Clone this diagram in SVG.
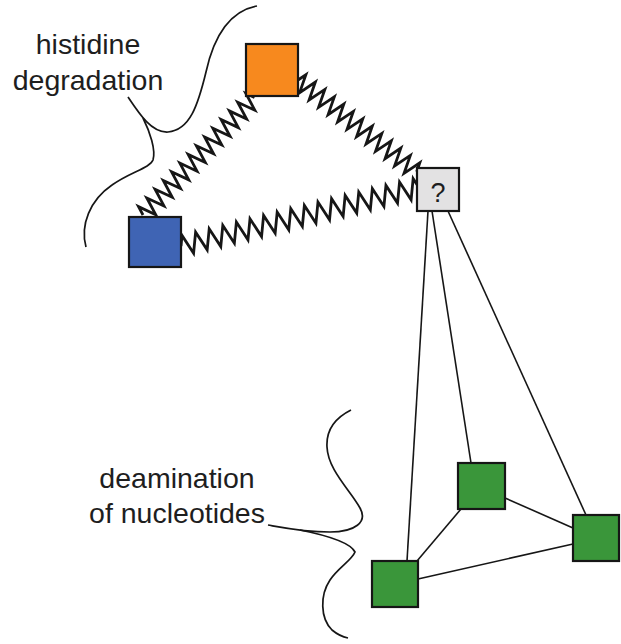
<svg xmlns="http://www.w3.org/2000/svg" width="621" height="644" viewBox="0 0 621 644">
<style>
.node{stroke:#161616;stroke-width:2.2}
.spring{fill:none;stroke:#161616;stroke-width:2.8;stroke-linejoin:miter}
.edge{fill:none;stroke:#161616;stroke-width:1.6}
.brace{fill:none;stroke:#161616;stroke-width:1.7}
.lbl{font-family:"Liberation Sans",Arial,sans-serif;font-size:28.5px;fill:#1e1e1e;text-anchor:middle}
</style>
<rect width="621" height="644" fill="#ffffff"/>
<g id="braces">
<path class="brace" d="M257,6 C225,12 212,45 206,72 C198,105 190,130 168,132 C152,133 140,115 128,97"/>
<path class="brace" d="M143,118 C150,132 156,150 153,160 C150,168 130,172 112,185 C90,200 80,225 86,247"/>
<path class="brace" d="M351,410 C335,418 326,430 327,447 C328,470 350,490 360,508 C368,522 355,532 330,532 C305,532 285,528 268,525"/>
<path class="brace" d="M300,530 C325,535 350,542 355,552 C352,560 338,568 330,580 C320,595 320,618 332,630 C338,635 343,637 348,638"/>
</g>
<g id="labels">
<text class="lbl" x="88" y="54">histidine</text>
<text class="lbl" x="88" y="90">degradation</text>
<text class="lbl" x="177" y="488">deamination</text>
<text class="lbl" x="177" y="523">of nucleotides</text>
</g>
<g id="connectors">
<g transform="translate(143,215) rotate(-46.5)">
<path class="spring" d="M0,0 l3,-9 l6,18 l6,-18 l6,18 l6,-18 l6,18 l6,-18 l6,18 l6,-18 l6,18 l6,-18 l6,18 l6,-18 l6,18 l6,-18 l6,18 l6,-18 l6,18 l6,-18 l6,18 l6,-18 l6,18 l6,-18 l6,18 l6,-18 l6,18 l6,-18 l3,9"/>
</g>
<g transform="translate(298,80) rotate(37.7)">
<path class="spring" d="M0,0 l3,-9 l6,18 l6,-18 l6,18 l6,-18 l6,18 l6,-18 l6,18 l6,-18 l6,18 l6,-18 l6,18 l6,-18 l6,18 l6,-18 l6,18 l6,-18 l6,18 l6,-18 l6,18 l6,-18 l6,18 l6,-18 l6,18 l6,-18 l3,9"/>
</g>
<g transform="translate(181,246) rotate(-13.8)">
<path class="spring" d="M0,0 l3.5,-10 l7,20 l7,-20 l7,20 l7,-20 l7,20 l7,-20 l7,20 l7,-20 l7,20 l7,-20 l7,20 l7,-20 l7,20 l7,-20 l7,20 l7,-20 l7,20 l7,-20 l7,20 l7,-20 l7,20 l7,-20 l7,20 l7,-20 l7,20 l7,-20 l7,20 l7,-20 l7,20 l7,-20 l7,20 l7,-20 l7,20 l7,-20 l3.5,10"/>
</g>
<line class="edge" x1="428" y1="211" x2="407" y2="561"/>
<line class="edge" x1="432" y1="211" x2="471" y2="463"/>
<line class="edge" x1="448" y1="211" x2="586" y2="515"/>
<line class="edge" x1="417" y1="561" x2="461" y2="509"/>
<line class="edge" x1="505" y1="498" x2="573" y2="528"/>
<line class="edge" x1="418" y1="579" x2="573" y2="544"/>
</g>
<g id="orange"><rect class="node" x="246" y="44" width="52" height="52" fill="#F7891E"/></g>
<g id="blue"><rect class="node" x="129" y="217" width="52" height="50" fill="#3F64B4"/></g>
<g id="unknown"><rect class="node" x="417" y="168" width="42" height="43" fill="#E3E2E3"/><text class="lbl" x="438" y="202" style="font-size:27px">?</text></g>
<g id="green1"><rect class="node" x="372" y="561" width="46" height="46" fill="#3A963A"/></g>
<g id="green2"><rect class="node" x="458" y="463" width="47" height="46" fill="#3A963A"/></g>
<g id="green3"><rect class="node" x="573" y="515" width="46" height="46" fill="#3A963A"/></g>
</svg>
